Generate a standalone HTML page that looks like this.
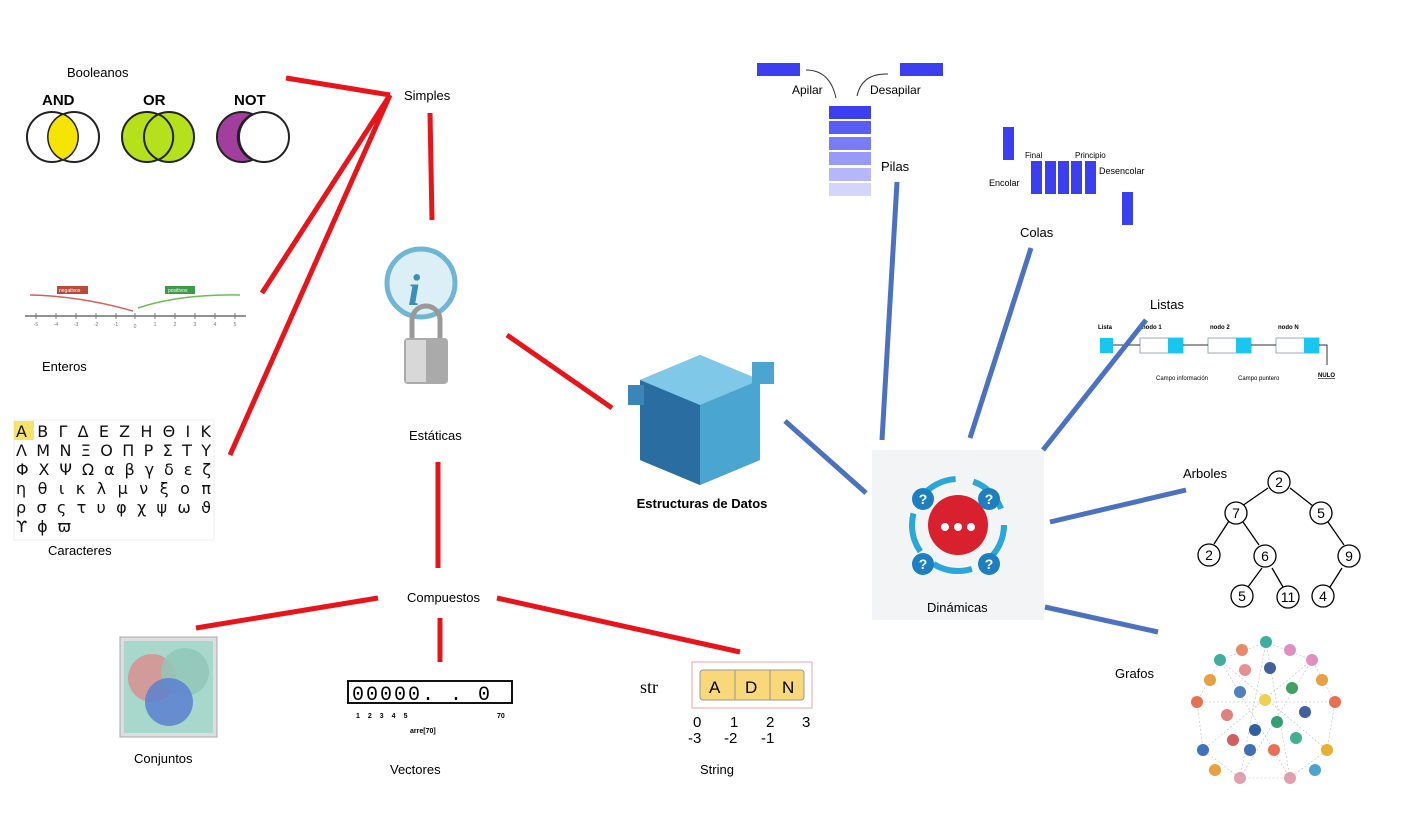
<!DOCTYPE html>
<html><head><meta charset="utf-8"><style>
html,body{margin:0;padding:0;background:#fff;}
svg{display:block;font-family:"Liberation Sans",sans-serif;}
</style></head><body>
<svg width="1403" height="817" viewBox="0 0 1403 817" xmlns="http://www.w3.org/2000/svg">
<rect width="1403" height="817" fill="#fff"/>
<!-- Booleanos -->
<text x="67" y="77" font-size="13">Booleanos</text>
<text x="42" y="105" font-size="15" font-weight="bold">AND</text>
<text x="143" y="105" font-size="15" font-weight="bold">OR</text>
<text x="234" y="105" font-size="15" font-weight="bold">NOT</text>
<circle cx="52" cy="137" r="25" fill="#fff" stroke="#222" stroke-width="2"/>
<circle cx="74" cy="137" r="25" fill="none" stroke="#222" stroke-width="2"/>
<path d="M63,114 A25,25 0 0 1 63,160 A25,25 0 0 1 63,114Z" fill="#f5e400" stroke="#222" stroke-width="1.5"/>
<circle cx="147" cy="137" r="25" fill="#b5e01c" stroke="#222" stroke-width="2"/>
<circle cx="169" cy="137" r="25" fill="#b5e01c" stroke="#222" stroke-width="2"/>
<path d="M158,114 A25,25 0 0 1 158,160" fill="none" stroke="#222" stroke-width="2"/>
<circle cx="242" cy="137" r="25" fill="#a23f9e" stroke="#222" stroke-width="2"/>
<circle cx="264" cy="137" r="25" fill="#fff" stroke="#222" stroke-width="2"/>
<path d="M253,114 A25,25 0 0 0 253,160" fill="none" stroke="#222" stroke-width="2"/>
<!-- Enteros number line -->
<line x1="25" y1="316" x2="246" y2="316" stroke="#555" stroke-width="1.2"/>
<g stroke="#777"><line x1="36" y1="313" x2="36" y2="319"/><line x1="56" y1="313" x2="56" y2="319"/><line x1="76" y1="313" x2="76" y2="319"/><line x1="96" y1="313" x2="96" y2="319"/><line x1="116" y1="313" x2="116" y2="319"/><line x1="135" y1="313" x2="135" y2="319"/><line x1="155" y1="313" x2="155" y2="319"/><line x1="175" y1="313" x2="175" y2="319"/><line x1="195" y1="313" x2="195" y2="319"/><line x1="215" y1="313" x2="215" y2="319"/><line x1="235" y1="313" x2="235" y2="319"/></g>
<g font-size="5" fill="#777" text-anchor="middle"><text x="36" y="326">-5</text><text x="56" y="326">-4</text><text x="76" y="326">-3</text><text x="96" y="326">-2</text><text x="116" y="326">-1</text><text x="135" y="328">0</text><text x="155" y="326">1</text><text x="175" y="326">2</text><text x="195" y="326">3</text><text x="215" y="326">4</text><text x="235" y="326">5</text></g>
<path d="M133,311 Q80,296 30,295" fill="none" stroke="#d46060" stroke-width="1.5"/>
<path d="M138,308 Q180,294 240,295" fill="none" stroke="#6cbb5a" stroke-width="1.5"/>
<rect x="57" y="286" width="31" height="8" fill="#b84a3a"/>
<rect x="165" y="286" width="30" height="8" fill="#3c9a48"/>
<text x="59" y="292" font-size="5" fill="#fff">negativos</text>
<text x="168" y="292" font-size="5" fill="#fff">positivos</text>
<text x="42" y="371" font-size="13">Enteros</text>
<!-- Greek -->
<rect x="14" y="420" width="200" height="120" fill="#fff" stroke="#eee"/>
<rect x="14" y="421" width="20" height="19" fill="#f5e36a"/>
<g font-size="16" fill="#111" font-family="DejaVu Sans,sans-serif">
<text x="16" y="437" textLength="195" lengthAdjust="spacing">Α Β Γ Δ Ε Ζ Η Θ Ι Κ</text>
<text x="16" y="456" textLength="195" lengthAdjust="spacing">Λ Μ Ν Ξ Ο Π Ρ Σ Τ Υ</text>
<text x="16" y="475" textLength="195" lengthAdjust="spacing">Φ Χ Ψ Ω α β γ δ ε ζ</text>
<text x="16" y="494" textLength="195" lengthAdjust="spacing">η θ ι κ λ μ ν ξ ο π</text>
<text x="16" y="513" textLength="195" lengthAdjust="spacing">ρ σ ς τ υ φ χ ψ ω ϑ</text>
<text x="16" y="532" textLength="55" lengthAdjust="spacing">ϒ ϕ ϖ</text></g>
<text x="48" y="555" font-size="13">Caracteres</text>
<!-- Red connectors -->
<g stroke="#e8141a" stroke-width="5" stroke-linecap="butt">
<line x1="286" y1="78" x2="390" y2="95"/>
<line x1="390" y1="95" x2="262" y2="293"/>
<line x1="390" y1="95" x2="230" y2="455"/>
<line x1="430" y1="113" x2="432" y2="220"/>
<line x1="507" y1="335" x2="612" y2="408"/>
<line x1="438" y1="462" x2="438" y2="568"/>
<line x1="378" y1="598" x2="196" y2="628"/>
<line x1="440" y1="618" x2="440" y2="662"/>
<line x1="497" y1="598" x2="740" y2="652"/>
</g>
<text x="404" y="100" font-size="13">Simples</text>
<!-- Estáticas icon -->
<circle cx="421" cy="283" r="34" fill="#dceff7" stroke="#6fb5d4" stroke-width="5"/>
<text x="408" y="305" font-size="44" font-style="italic" font-weight="bold" fill="#3a8fb8" font-family="Liberation Serif,serif">i</text>
<path d="M412,340 v-20 a14,14 0 0 1 28,0 v20" fill="none" stroke="#999" stroke-width="5"/>
<rect x="404" y="338" width="44" height="46" rx="4" fill="#aaa"/>
<rect x="406" y="340" width="20" height="42" fill="#d8d8d8"/>
<text x="409" y="440" font-size="13">Estáticas</text>
<!-- Cube -->
<g>
<polygon points="640,380 700,355 760,380 760,460 700,485 640,460" fill="#3a86b8"/>
<polygon points="640,380 700,405 700,485 640,460" fill="#2a6da0"/>
<polygon points="700,405 760,380 760,460 700,485" fill="#4aa6d0"/>
<polygon points="640,380 700,355 760,380 700,405" fill="#7fc8e8"/>
<rect x="752" y="362" width="22" height="22" fill="#4aa6d0"/>
<rect x="628" y="385" width="16" height="20" fill="#3a86b8"/>
</g>
<text x="702" y="508" font-size="13" font-weight="bold" text-anchor="middle">Estructuras de Datos</text>
<text x="407" y="602" font-size="13">Compuestos</text>
<!-- Conjuntos -->
<rect x="120" y="637" width="97" height="100" fill="#ddd" stroke="#aaa"/>
<rect x="124" y="641" width="89" height="92" fill="#a8d8cc"/>
<circle cx="152" cy="678" r="24" fill="#d89090" opacity="0.85"/>
<circle cx="185" cy="672" r="24" fill="#90c8b8" opacity="0.85"/>
<circle cx="169" cy="702" r="24" fill="#5a80d0" opacity="0.85"/>
<text x="134" y="763" font-size="13">Conjuntos</text>
<!-- Vectores -->
<rect x="345" y="672" width="172" height="68" fill="#fff"/>
<rect x="348" y="681" width="164" height="22" fill="none" stroke="#111" stroke-width="2"/>
<text x="352" y="700" font-size="20" font-family="Liberation Mono,monospace" letter-spacing="2">00000.  . 0</text>
<text x="356" y="718" font-size="7" font-weight="bold" letter-spacing="8">12345</text>
<text x="497" y="718" font-size="7" font-weight="bold">70</text>
<text x="410" y="733" font-size="7" font-weight="bold">arre[70]</text>
<text x="390" y="774" font-size="13">Vectores</text>
<!-- String -->
<text x="640" y="693" font-size="18" font-family="Liberation Serif,serif">str</text>
<rect x="692" y="662" width="120" height="46" fill="#fff" stroke="#f0a0a0" stroke-width="1"/>
<rect x="700" y="670" width="104" height="30" rx="3" fill="#f8d878" stroke="#999"/>
<line x1="735" y1="670" x2="735" y2="700" stroke="#999"/><line x1="770" y1="670" x2="770" y2="700" stroke="#999"/>
<text x="709" y="693" font-size="17">A</text><text x="745" y="693" font-size="17">D</text><text x="782" y="693" font-size="17">N</text>
<g font-size="15"><text x="693" y="727">0</text><text x="730" y="727">1</text><text x="766" y="727">2</text><text x="802" y="727">3</text>
<text x="688" y="743">-3</text><text x="724" y="743">-2</text><text x="761" y="743">-1</text></g>
<text x="700" y="774" font-size="13">String</text>
<!-- Pilas -->
<rect x="757" y="63" width="43" height="13" fill="#3c3ff0"/>
<rect x="900" y="63" width="43" height="13" fill="#3c3ff0"/>
<path d="M806,70 Q830,70 836,98" fill="none" stroke="#333"/>
<path d="M857,96 Q862,73 888,74" fill="none" stroke="#333"/>
<text x="792" y="94" font-size="12">Apilar</text>
<text x="870" y="94" font-size="12">Desapilar</text>
<rect x="829" y="106" width="42" height="13" fill="#3c3ff0"/>
<rect x="829" y="121" width="42" height="13" fill="#5a5df5"/>
<rect x="829" y="137" width="42" height="13" fill="#7a7cf7"/>
<rect x="829" y="152" width="42" height="13" fill="#989af8"/>
<rect x="829" y="168" width="42" height="13" fill="#b6b7fa"/>
<rect x="829" y="183" width="42" height="13" fill="#d4d5fc"/>
<text x="881" y="171" font-size="13">Pilas</text>
<!-- Colas -->
<rect x="1003" y="127" width="11" height="33" fill="#3c3ff0"/>
<rect x="1031" y="161" width="11" height="33" fill="#3c3ff0"/>
<rect x="1045" y="161" width="11" height="33" fill="#3c3ff0"/>
<rect x="1058" y="161" width="11" height="33" fill="#3c3ff0"/>
<rect x="1071" y="161" width="11" height="33" fill="#3c3ff0"/>
<rect x="1085" y="161" width="11" height="33" fill="#3c3ff0"/>
<rect x="1122" y="192" width="11" height="33" fill="#3c3ff0"/>
<text x="1025" y="158" font-size="8">Final</text><text x="1075" y="158" font-size="8">Principio</text>
<text x="989" y="186" font-size="9">Encolar</text><text x="1099" y="174" font-size="9">Desencolar</text>
<text x="1020" y="237" font-size="13">Colas</text>
<!-- Listas -->
<text x="1150" y="309" font-size="13">Listas</text>
<g font-size="6" font-weight="bold"><text x="1098" y="329">Lista</text><text x="1142" y="329">nodo 1</text><text x="1210" y="329">nodo 2</text><text x="1278" y="329">nodo N</text></g>
<rect x="1100" y="338" width="13" height="15" fill="#19c6f0"/>
<rect x="1140" y="338" width="43" height="15" fill="#fff" stroke="#9ab"/><rect x="1168" y="338" width="15" height="15" fill="#19c6f0"/>
<rect x="1208" y="338" width="43" height="15" fill="#fff" stroke="#9ab"/><rect x="1236" y="338" width="15" height="15" fill="#19c6f0"/>
<rect x="1276" y="338" width="43" height="15" fill="#fff" stroke="#9ab"/><rect x="1304" y="338" width="15" height="15" fill="#19c6f0"/>
<g stroke="#333"><line x1="1113" y1="345" x2="1140" y2="345"/><line x1="1183" y1="345" x2="1208" y2="345"/><line x1="1251" y1="345" x2="1276" y2="345"/><path d="M1319,345 h8 v20" fill="none"/></g>
<g font-size="6"><text x="1156" y="380">Campo información</text><text x="1238" y="380">Campo puntero</text><text x="1318" y="377" font-weight="bold" text-decoration="underline">NULO</text></g>
<!-- Dinámicas -->
<rect x="872" y="450" width="172" height="170" fill="#f3f4f6"/>
<circle cx="958" cy="525" r="46" fill="none" stroke="#2aa6d8" stroke-width="6" stroke-dasharray="40 18"/>
<circle cx="958" cy="525" r="30" fill="#d8202e"/>
<g fill="#fff"><circle cx="945" cy="527" r="4"/><circle cx="958" cy="527" r="4"/><circle cx="971" cy="527" r="4"/></g>
<g fill="#1e7fc0"><circle cx="923" cy="499" r="11"/><circle cx="989" cy="499" r="11"/><circle cx="923" cy="564" r="11"/><circle cx="989" cy="564" r="11"/></g>
<g fill="#fff" font-size="14" font-weight="bold" text-anchor="middle"><text x="923" y="504">?</text><text x="989" y="504">?</text><text x="923" y="569">?</text><text x="989" y="569">?</text></g>
<text x="927" y="612" font-size="13">Dinámicas</text>
<!-- Blue connectors -->
<g stroke="#4a72c0" stroke-width="5">
<line x1="785" y1="421" x2="866" y2="493"/>
<line x1="897" y1="182" x2="882" y2="440"/>
<line x1="1031" y1="248" x2="970" y2="438"/>
<line x1="1146" y1="320" x2="1043" y2="450"/>
<line x1="1050" y1="522" x2="1186" y2="490"/>
<line x1="1045" y1="607" x2="1158" y2="632"/>
</g>
<!-- Arboles -->
<text x="1183" y="478" font-size="13">Arboles</text>
<g stroke="#000" stroke-width="1.3" fill="none">
<line x1="1268" y1="488" x2="1242" y2="506"/><line x1="1290" y1="488" x2="1313" y2="506"/>
<line x1="1229" y1="521" x2="1214" y2="544"/><line x1="1243" y1="522" x2="1259" y2="545"/>
<line x1="1328" y1="522" x2="1344" y2="545"/><line x1="1262" y1="568" x2="1248" y2="587"/>
<line x1="1272" y1="568" x2="1283" y2="587"/><line x1="1342" y1="568" x2="1330" y2="587"/>
</g>
<g fill="#fff" stroke="#000" stroke-width="1.3">
<circle cx="1279" cy="482" r="11"/><circle cx="1236" cy="513" r="11"/><circle cx="1321" cy="513" r="11"/>
<circle cx="1209" cy="555" r="11"/><circle cx="1265" cy="556" r="11"/><circle cx="1349" cy="556" r="11"/>
<circle cx="1242" cy="596" r="11"/><circle cx="1288" cy="597" r="11"/><circle cx="1323" cy="596" r="11"/></g>
<g font-size="14" text-anchor="middle"><text x="1279" y="487">2</text><text x="1236" y="518">7</text><text x="1321" y="518">5</text><text x="1209" y="560">2</text><text x="1265" y="561">6</text><text x="1349" y="561">9</text><text x="1242" y="601">5</text><text x="1288" y="602">11</text><text x="1323" y="601">4</text></g>
<!-- Grafos -->
<text x="1115" y="678" font-size="13">Grafos</text>
<g stroke="#bbb" stroke-width="0.6" stroke-dasharray="2 2">
<polygon points="1266,642 1312,660 1335,702 1327,750 1290,778 1240,778 1203,750 1197,702 1220,660" fill="none"/>
<line x1="1266" y1="642" x2="1240" y2="778"/><line x1="1266" y1="642" x2="1290" y2="778"/><line x1="1220" y1="660" x2="1327" y2="750"/><line x1="1312" y1="660" x2="1203" y2="750"/><line x1="1197" y1="702" x2="1335" y2="702"/><line x1="1220" y1="660" x2="1290" y2="778"/><line x1="1312" y1="660" x2="1240" y2="778"/>
</g>
<g>
<circle cx="1266" cy="642" r="6" fill="#3bb0a0"/><circle cx="1242" cy="650" r="6" fill="#e88a6a"/><circle cx="1290" cy="650" r="6" fill="#e090c0"/>
<circle cx="1220" cy="660" r="6" fill="#3bb0a0"/><circle cx="1312" cy="660" r="6" fill="#e090c0"/>
<circle cx="1210" cy="680" r="6" fill="#e8a040"/><circle cx="1322" cy="680" r="6" fill="#e8a040"/>
<circle cx="1197" cy="702" r="6" fill="#e87050"/><circle cx="1335" cy="702" r="6" fill="#e87050"/>
<circle cx="1245" cy="670" r="6" fill="#e89090"/><circle cx="1270" cy="668" r="6" fill="#4060a0"/><circle cx="1292" cy="688" r="6" fill="#40a060"/>
<circle cx="1265" cy="700" r="6" fill="#f0d050"/><circle cx="1240" cy="692" r="6" fill="#5080c0"/><circle cx="1305" cy="712" r="6" fill="#4060a0"/>
<circle cx="1227" cy="715" r="6" fill="#e08080"/><circle cx="1277" cy="722" r="6" fill="#30a070"/><circle cx="1255" cy="730" r="6" fill="#3060a0"/>
<circle cx="1296" cy="738" r="6" fill="#40b090"/><circle cx="1233" cy="740" r="6" fill="#d06060"/>
<circle cx="1203" cy="750" r="6" fill="#4070c0"/><circle cx="1327" cy="750" r="6" fill="#e8b030"/>
<circle cx="1250" cy="750" r="6" fill="#4070b0"/><circle cx="1274" cy="750" r="6" fill="#e87050"/>
<circle cx="1240" cy="778" r="6" fill="#e0a0b0"/><circle cx="1290" cy="778" r="6" fill="#e0a0b0"/><circle cx="1215" cy="770" r="6" fill="#e8a040"/><circle cx="1315" cy="770" r="6" fill="#50a0d0"/>
</g>
</svg>
</body></html>
